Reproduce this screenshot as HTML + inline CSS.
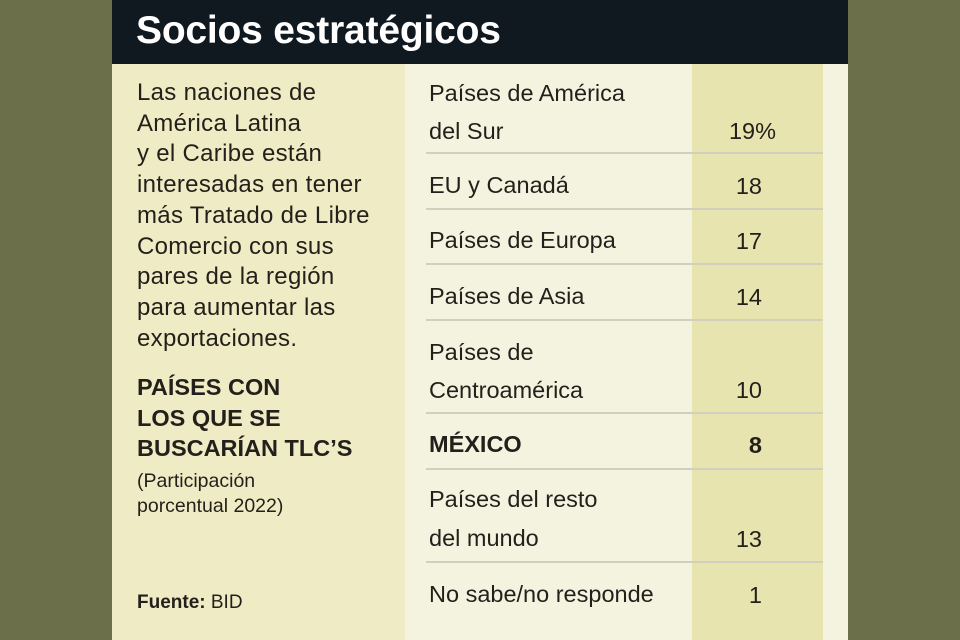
<!DOCTYPE html>
<html><head><meta charset="utf-8"><style>
body{margin:0;width:960px;height:640px;background:#6b704a;position:relative;overflow:hidden;font-family:"Liberation Sans",sans-serif;color:#231f1a}
.a{position:absolute;white-space:nowrap}
.t{font-size:23.5px;letter-spacing:0;line-height:24px}
.l{font-size:24px;letter-spacing:0.3px;line-height:24px}
.hr{position:absolute;left:426px;width:397px;height:2px;background:#d2cfbd}
.n{font-size:23.5px;width:60px;text-align:right;left:702px}
</style></head><body>
<div class="a" style="left:112px;top:0;width:736px;height:64px;background:#101820"></div>
<div class="a" style="left:136px;top:9px;color:#fff;font-weight:bold;font-size:39px;letter-spacing:-0.2px">Socios estratégicos</div>
<div class="a" style="left:112px;top:64px;width:293px;height:576px;background:#efebc5"></div>
<div class="a" style="left:405px;top:64px;width:443px;height:576px;background:#f4f3e0"></div>
<div class="a" style="left:692px;top:64px;width:131px;height:576px;background:#e8e4b0"></div>

<div class="a l" style="left:137px;top:78px;line-height:30.7px">Las naciones de<br>América Latina<br>y el Caribe están<br>interesadas en tener<br>más Tratado de Libre<br>Comercio con sus<br>pares de la región<br>para aumentar las<br>exportaciones.</div>
<div class="a" style="left:137px;top:372px;font-weight:bold;font-size:23.5px;line-height:30.5px;letter-spacing:0">PAÍSES CON<br>LOS QUE SE<br>BUSCARÍAN TLC’S</div>
<div class="a" style="left:137px;top:469px;font-size:19.5px;line-height:25px;letter-spacing:0">(Participación<br>porcentual 2022)</div>
<div class="a" style="left:137px;top:592px;font-size:19px;letter-spacing:0"><b>Fuente:</b> BID</div>

<div class="a t" style="left:429px;top:74px;line-height:38px">Países de América<br>del Sur</div>
<div class="a n" style="top:118px;left:716px">19%</div>
<div class="hr" style="top:152px"></div>
<div class="a t" style="left:429px;top:173px">EU y Canadá</div><div class="a n" style="top:173px">18</div>
<div class="hr" style="top:208px"></div>
<div class="a t" style="left:429px;top:228px">Países de Europa</div><div class="a n" style="top:228px">17</div>
<div class="hr" style="top:263px"></div>
<div class="a t" style="left:429px;top:333px;line-height:38px">Países de<br>Centroamérica</div><div class="a n" style="top:377px">10</div>
<div class="hr" style="top:319px"></div>
<div class="hr" style="top:412px"></div>
<div class="a t" style="left:429px;top:432px;font-weight:bold">MÉXICO</div><div class="a n" style="top:432px;font-weight:bold">8</div>
<div class="hr" style="top:468px"></div>
<div class="a t" style="left:429px;top:480px;line-height:39px">Países del resto<br>del mundo</div><div class="a n" style="top:526px">13</div>
<div class="hr" style="top:561px"></div>
<div class="a t" style="left:429px;top:582px">No sabe/no responde</div><div class="a n" style="top:582px">1</div>
<div class="a t" style="left:429px;top:284px">Países de Asia</div><div class="a n" style="top:284px">14</div>
</body></html>
